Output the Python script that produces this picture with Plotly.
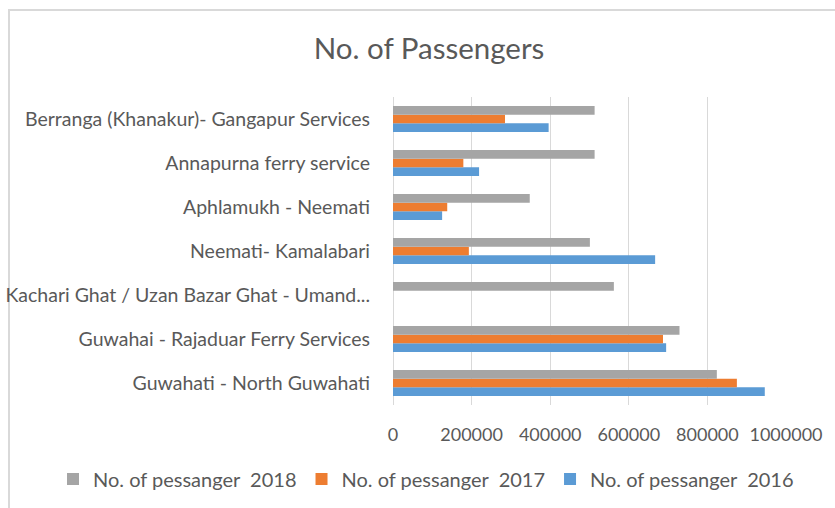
import plotly.graph_objects as go

# Ferry routes, listed bottom-to-top as they appear on the category axis
routes = [
    "Guwahati - North Guwahati",
    "Guwahai - Rajaduar Ferry Services",
    "Kachari Ghat / Uzan Bazar Ghat - Umand...",
    "Neemati- Kamalabari",
    "Aphlamukh - Neemati",
    "Annapurna ferry service",
    "Berranga (Khanakur)- Gangapur Services",
]

passengers_2016 = [946000, 695000, 0, 667000, 125000, 219000, 396000]
passengers_2017 = [875000, 687000, 0, 193000, 138000, 179000, 285000]
passengers_2018 = [824000, 729000, 562000, 501000, 348000, 513000, 513000]

series_names = [
    "No. of pessanger\u00a0 2016",
    "No. of pessanger\u00a0 2017",
    "No. of pessanger\u00a0 2018",
]
series_colors = ["#5B9BD5", "#ED7D31", "#A5A5A5"]
x_ticks = [0, 200000, 400000, 600000, 800000, 1000000]

TEXT = "#595959"
GRID = "#D9D9D9"
FONT = "Lato, 'Open Sans', sans-serif"

fig = go.Figure()
for name, values, color in zip(series_names,
                               [passengers_2016, passengers_2017, passengers_2018],
                               series_colors):
    fig.add_trace(go.Bar(
        y=routes, x=values, name=name, orientation="h",
        marker=dict(color=color, line=dict(width=0)),
    ))

fig.update_layout(
    width=835, height=508,
    margin=dict(l=393, r=49, t=97, b=103, autoexpand=False),
    paper_bgcolor="white", plot_bgcolor="white",
    font=dict(family=FONT, color=TEXT, size=18),
    barmode="group", bargap=0.41, bargroupgap=0,
    title=dict(text="No. of Passengers", x=429 / 835, xref="container", xanchor="center",
               y=1 - 49 / 508, yref="container", yanchor="middle",
               font=dict(family=FONT, size=29.5, color=TEXT)),
    xaxis=dict(range=[0, 1000000], tickvals=x_ticks, ticktext=[str(v) for v in x_ticks],
               showgrid=True, gridcolor=GRID, gridwidth=1.3,
               zeroline=True, zerolinecolor=GRID, zerolinewidth=1.3,
               showline=False, ticks="", ticklabelstandoff=17, automargin=False,
               tickfont=dict(family=FONT, size=18, color=TEXT), fixedrange=True),
    yaxis=dict(showgrid=False, zeroline=False, showline=False, ticks="",
               ticklabelstandoff=22, automargin=False,
               tickfont=dict(family=FONT, size=19.5, color=TEXT), fixedrange=True),
    legend=dict(orientation="h", traceorder="reversed",
                x=(53 - 393) / 393, xanchor="left",
                y=(405 - 479) / 308, yanchor="middle",
                font=dict(family=FONT, size=20, color=TEXT),
                itemwidth=30, bgcolor="rgba(0,0,0,0)"),
    showlegend=True,
)

# thin frame around the chart area
fig.add_shape(type="rect", xref="paper", yref="paper",
              x0=(9 - 393) / 393, x1=(900 - 393) / 393,
              y0=(405 - 560) / 308, y1=(405 - 10) / 308,
              line=dict(color="#D9D9D9", width=2), fillcolor="rgba(0,0,0,0)",
              layer="below")

fig.write_html("out.html")
